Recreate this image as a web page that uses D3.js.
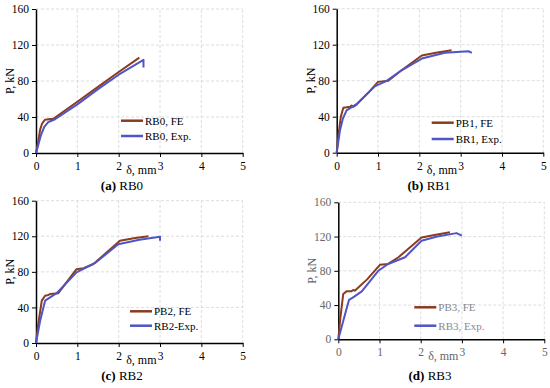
<!DOCTYPE html>
<html>
<head>
<meta charset="utf-8">
<script src="https://cdn.jsdelivr.net/npm/d3@7"></script>
<style>
  body { margin: 0; background: #fff; }
  svg { display: block; }
  svg text { font-family: "Liberation Serif", "Times New Roman", serif; }
</style>
</head>
<body>
<svg id="chart" width="550" height="388"></svg>
<script>
// data: [delta (mm), P (kN)]
const xTicks = [0, 1, 2, 3, 4, 5];
const yTicks = [0, 40, 80, 120, 160];

const rb0FE = [[0, 0], [0.05, 12], [0.1, 26], [0.15, 33], [0.22, 37], [0.3, 37.5], [0.42, 38], [1, 57], [1.5, 73.5], [2, 90], [2.5, 106]];
const rb0Exp = [[0, 0], [0.05, 8], [0.12, 20], [0.2, 29], [0.3, 34.5], [0.46, 37.5], [1, 54], [1.5, 71], [2, 87], [2.6, 103.5], [2.6, 95]];

const rb1FE = [[0, 0], [0.05, 22], [0.1, 40], [0.16, 50], [0.25, 50.5], [0.33, 51], [0.36, 52.5], [0.4, 51], [0.48, 53.5], [0.75, 66], [1.0, 78.7], [1.25, 80], [1.57, 91.6], [2.06, 108], [2.4, 111], [2.78, 113.8]];
const rb1Exp = [[0, 0], [0.08, 25], [0.15, 38], [0.24, 47], [0.48, 54], [0.93, 74], [1.2, 79.5], [1.57, 91.6], [2.06, 104.6], [2.62, 111], [3.19, 112.7], [3.27, 111]];

const rb2FE = [[0, 0], [0.05, 20], [0.14, 47.6], [0.22, 53.2], [0.3, 54], [0.34, 55], [0.54, 56], [0.98, 83], [1.15, 84], [1.39, 88.8], [2.03, 115], [2.4, 118], [2.72, 120]];
const rb2Exp = [[0, 0], [0.1, 25], [0.22, 47.6], [0.5, 56], [0.98, 79.4], [1.43, 90], [1.99, 111], [2.5, 116], [3.0, 119.5], [3.0, 115]];

const rb3FE = [[0, 0], [0.05, 25], [0.12, 53], [0.2, 56], [0.32, 56], [0.36, 57.6], [0.4, 56.8], [0.7, 70], [1.01, 87], [1.21, 88], [1.46, 95.8], [2.02, 119], [2.4, 122.5], [2.71, 125]];
const rb3Exp = [[0, 0], [0.1, 18], [0.23, 41], [0.26, 46], [0.36, 49], [0.57, 56], [0.97, 80], [1.21, 88], [1.62, 95.8], [2.02, 115], [2.4, 120], [2.87, 124], [3.0, 121]];

const captions = [["(a)", " RB0"], ["(b)", " RB1"], ["(c)", " RB2"], ["(d)", " RB3"]];
const legendNames = [["RB0, FE", "RB0, Exp."], ["PB1, FE", "BR1, Exp."], ["PB2, FE", "RB2-Exp."], ["PB3, FE", "RB3, Exp."]];
const seriesData = [[rb0FE, rb0Exp], [rb1FE, rb1Exp], [rb2FE, rb2Exp], [rb3FE, rb3Exp]];

const colorFE = "#8a3c1e";
const colorExp = "#4f55c6";
const serif = "Liberation Serif";

// layout of each panel (pixel positions)
const panels = [
  { x0: 36, x1: 242.7, y0: 153, y1: 9, legX: 121, legY: 120.7, legGap: 15.3, capX: 122, capY: 190, text: "#000", legText: "#000" },
  { x0: 336.7, x1: 543.3, y0: 152.7, y1: 8.7, legX: 431.7, legY: 122.7, legGap: 16.3, capX: 429, capY: 190, text: "#000", legText: "#000" },
  { x0: 36, x1: 242.7, y0: 343, y1: 200.7, legX: 130, legY: 311.3, legGap: 14.4, capX: 122, capY: 380, text: "#000", legText: "#000" },
  { x0: 338.3, x1: 544.3, y0: 339.3, y1: 202.3, legX: 414.3, legY: 307.3, legGap: 18.4, capX: 430, capY: 380, text: "#666", legText: "#888" },
];

const svg = d3.select("#chart");

panels.forEach((p, i) => {
  const g = svg.append("g");
  const x = d3.scaleLinear().domain([0, 5]).range([p.x0, p.x1]);
  const y = d3.scaleLinear().domain([0, 160]).range([p.y0, p.y1]);

  // grid
  g.append("g")
    .selectAll("line")
    .data(xTicks.slice(1))
    .join("line")
    .attr("x1", (d) => x(d))
    .attr("x2", (d) => x(d))
    .attr("y1", p.y0)
    .attr("y2", p.y1)
    .attr("stroke", "#d4d4d4")
    .attr("stroke-width", 0.8)
    .attr("stroke-dasharray", "3,2");

  g.append("g")
    .selectAll("line")
    .data(yTicks.slice(1))
    .join("line")
    .attr("x1", p.x0)
    .attr("x2", p.x1)
    .attr("y1", (d) => y(d))
    .attr("y2", (d) => y(d))
    .attr("stroke", "#d4d4d4")
    .attr("stroke-width", 0.8)
    .attr("stroke-dasharray", "3,2");

  // axes
  const xAxis = d3.axisBottom(x).tickValues(xTicks).tickFormat(d3.format("d")).tickSize(4).tickPadding(5).tickSizeOuter(0);
  const yAxis = d3.axisLeft(y).tickValues(yTicks).tickFormat(d3.format("d")).tickSize(4).tickPadding(3).tickSizeOuter(0);

  const gx = g.append("g").attr("transform", `translate(0,${p.y0})`).call(xAxis);
  const gy = g.append("g").attr("transform", `translate(${p.x0},0)`).call(yAxis);

  [gx, gy].forEach((a) => {
    a.attr("font-family", serif);
    a.select(".domain").attr("stroke", "#000").attr("stroke-width", 1.5);
    a.selectAll(".tick line").attr("stroke", "#000").attr("stroke-width", 1);
    a.selectAll(".tick text")
      .attr("font-family", serif)
      .attr("font-size", 11.5)
      .attr("fill", p.text);
  });

  // axis titles
  g.append("text")
    .attr("x", (p.x0 + p.x1) / 2 + 2)
    .attr("y", p.y0 + 21)
    .attr("text-anchor", "middle")
    .attr("font-family", serif)
    .attr("font-size", 12)
    .attr("fill", p.text)
    .text("δ, mm");

  g.append("text")
    .attr("transform", `translate(${p.x0 - 22},${(p.y0 + p.y1) / 2}) rotate(-90)`)
    .attr("text-anchor", "middle")
    .attr("font-family", serif)
    .attr("font-size", 12)
    .attr("fill", p.text)
    .text("P, kN");

  // series
  const line = d3.line().x((d) => x(d[0])).y((d) => y(d[1]));
  const cols = [colorFE, colorExp];
  seriesData[i].forEach((s, k) => {
    g.append("path")
      .datum(s)
      .attr("fill", "none")
      .attr("stroke", cols[k])
      .attr("stroke-width", 2)
      .attr("stroke-linejoin", "round")
      .attr("d", line);
  });

  // legend
  legendNames[i].forEach((name, k) => {
    const ly = p.legY + k * p.legGap;
    g.append("line")
      .attr("x1", p.legX)
      .attr("x2", p.legX + 22)
      .attr("y1", ly)
      .attr("y2", ly)
      .attr("stroke", cols[k])
      .attr("stroke-width", 2.5);
    g.append("text")
      .attr("x", p.legX + 24)
      .attr("y", ly + 4)
      .attr("font-family", serif)
      .attr("font-size", 11)
      .attr("fill", p.legText)
      .text(name);
  });

  // caption
  const cap = g.append("text")
    .attr("x", p.capX)
    .attr("y", p.capY)
    .attr("text-anchor", "middle")
    .attr("font-family", serif)
    .attr("font-size", 13)
    .attr("fill", "#000");
  cap.append("tspan").attr("font-weight", "bold").text(captions[i][0]);
  cap.append("tspan").text(captions[i][1]);
});
</script>
</body>
</html>
